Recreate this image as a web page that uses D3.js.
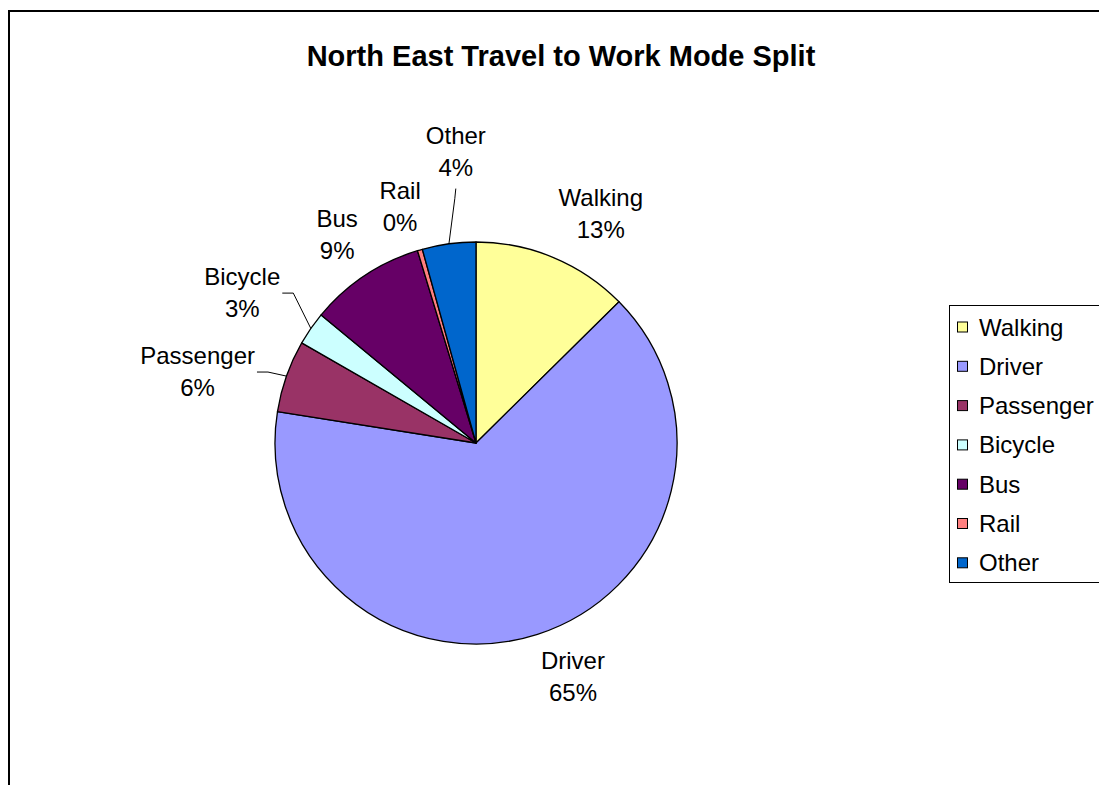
<!DOCTYPE html>
<html>
<head>
<meta charset="utf-8">
<script src="https://cdn.jsdelivr.net/npm/d3@7"></script>
<style>
  html, body { margin: 0; padding: 0; background: #fff; }
  svg { display: block; }
  text { font-family: "Liberation Sans", Arial, sans-serif; fill: #000; }
</style>
</head>
<body>
<svg id="chart" width="1099" height="785"></svg>
<script>
// ---- data ----
const categories = ["Walking", "Driver", "Passenger", "Bicycle", "Bus", "Rail", "Other"];
const shares     = [12.6, 64.9, 5.8, 2.7, 9.3, 0.4, 4.3];
const colors     = ["#FFFF99", "#9999FF", "#993366", "#CCFFFF", "#660066", "#FF8080", "#0066CC"];
const titleText  = "North East Travel to Work Mode Split";

// ---- layout config (not data) ----
const W = 1099, H = 785;
const cx = 476, cy = 443, R = 201;
const labelR = R * 1.3;
const labelNudge = [[24, 12], [17, -15], [-32, 15], [-19, -2], [6, 9], [-3, 14], [15, -33]];
const leaderSide = [null, null, "right", "right", null, null, "bottom"];

const svg = d3.select("#chart");

// frame
svg.append("rect")
  .attr("x", 9).attr("y", 11)
  .attr("width", W + 20).attr("height", H + 20)
  .attr("fill", "#fff").attr("stroke", "#000").attr("stroke-width", 2);

// title
svg.append("text")
  .attr("x", 561).attr("y", 66)
  .attr("text-anchor", "middle")
  .attr("font-weight", "bold")
  .attr("font-size", 29)
  .text(titleText);

const data = categories.map((c, i) => ({ name: c, value: shares[i], color: colors[i], i }));
const pie = d3.pie().value(d => d.value).sort(null);
const arcs = pie(data);
const arc = d3.arc().innerRadius(0).outerRadius(R);

const g = svg.append("g").attr("transform", `translate(${cx},${cy})`);
g.selectAll("path.slice").data(arcs).enter().append("path")
  .attr("class", "slice")
  .attr("d", arc)
  .attr("fill", d => d.data.color)
  .attr("stroke", "#000")
  .attr("stroke-width", 1.3)
  .attr("stroke-linejoin", "round");

const fmt = v => Math.round(v) + "%";
const polar = (a, r) => [r * Math.sin(a), -r * Math.cos(a)];

const lblFont = 24, lineGap = 32;
arcs.forEach((a, k) => {
  const mid = (a.startAngle + a.endAngle) / 2;
  const p = polar(mid, labelR);
  const lx = p[0] + labelNudge[k][0];
  const ly = p[1] + labelNudge[k][1];
  const t = g.append("text")
    .attr("text-anchor", "middle")
    .attr("font-size", lblFont);
  t.append("tspan").attr("x", lx).attr("y", ly - lineGap / 2 + 8.5).text(a.data.name);
  t.append("tspan").attr("x", lx).attr("y", ly + lineGap / 2 + 8.5).text(fmt(a.data.value));

  const side = leaderSide[k];
  if (side) {
    const bb = t.node().getBBox();
    const edge = polar(mid, R);
    let pts;
    if (side === "right") {
      const sx = bb.x + bb.width + 2, sy = ly + 1;
      pts = [[sx, sy], [sx + 11, sy], edge];
    } else {
      const sx = lx, sy = bb.y + bb.height + 8;
      pts = [[sx, sy], [sx - 1, sy + 10], edge];
    }
    g.append("path")
      .attr("d", d3.line()(pts))
      .attr("fill", "none")
      .attr("stroke", "#000")
      .attr("stroke-width", 1);
  }
});

// legend
const lg = svg.append("g");
lg.append("rect")
  .attr("x", 949.5).attr("y", 305.5)
  .attr("width", 170).attr("height", 277)
  .attr("fill", "#fff").attr("stroke", "#000").attr("stroke-width", 1);
const ly0 = 327, lstep = 39.3;
data.forEach((d, i) => {
  const yy = ly0 + i * lstep;
  lg.append("rect")
    .attr("x", 957.5).attr("y", yy - 5)
    .attr("width", 10).attr("height", 10)
    .attr("fill", d.color).attr("stroke", "#000").attr("stroke-width", 1);
  lg.append("text")
    .attr("x", 979).attr("y", yy + 8.5)
    .attr("font-size", 24)
    .text(d.name);
});
</script>
</body>
</html>
